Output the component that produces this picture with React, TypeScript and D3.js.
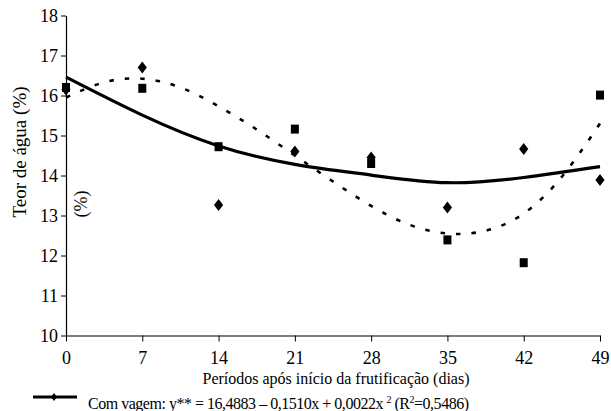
import React, { useEffect, useRef } from 'react';
import * as d3 from 'd3';

// dias após início da frutificação
const days = [0, 7, 14, 21, 28, 35, 42, 49];
// pontos observados
const comVagem = [16.15, 16.7, 13.26, 14.6, 14.45, 13.2, 14.66, 13.89];
const semVagem = [16.2, 16.18, 14.72, 15.16, 14.3, 12.39, 11.82, 16.01];
// curva ajustada (com vagem)
const fitComVagem = [16.46, 15.51, 14.74, 14.28, 14.01, 13.82, 13.95, 14.22];
// curva pontilhada (sem vagem)
const fitSemDays = [0, 3.5, 7, 10.5, 14, 17.5, 21, 24.5, 28, 31.5, 35, 38.5, 42, 45.5, 49];
const fitSemVagem = [15.95, 16.33, 16.42, 16.2, 15.73, 15.15, 14.5, 13.85, 13.24, 12.77, 12.55, 12.62, 13.05, 13.97, 15.3];
const yTicks = [10, 11, 12, 13, 14, 15, 16, 17, 18];

const FONT = 'Liberation Serif';

const diamond = (cx: number, cy: number, w: number, h: number) =>
  `M${cx},${cy - h}L${cx + w},${cy}L${cx},${cy + h}L${cx - w},${cy}Z`;

const App = () => {
  const svgRef = useRef<SVGSVGElement>(null);
  const width = 611;
  const height = 411;

  useEffect(() => {
    const svg = d3.select(svgRef.current);
    svg.selectAll('*').remove();

    const x = d3.scaleLinear().domain([0, 49]).range([66, 600]);
    const y = d3.scaleLinear().domain([10, 18]).range([335.5, 15.5]);

    // eixos
    const yAxis = svg.append('g')
      .attr('transform', `translate(${x(0)},0)`)
      .call(d3.axisLeft(y).tickValues(yTicks).tickFormat(d3.format('d')).tickSize(5).tickSizeOuter(0).tickPadding(3));

    const xAxis = svg.append('g')
      .attr('transform', `translate(0,${y(10)})`)
      .call(d3.axisBottom(x).tickValues(days).tickFormat(d3.format('d')).tickSize(6).tickSizeOuter(0).tickPadding(10));

    [yAxis, xAxis].forEach((g) => {
      g.attr('font-family', null).attr('font-size', null);
      g.selectAll('text')
        .attr('fill', '#000')
        .style('font-family', FONT)
        .style('font-size', '18px');
    });

    svg.selectAll('.domain').attr('stroke', '#000').attr('stroke-width', 1.2);
    svg.selectAll('.tick line').attr('stroke', '#000');

    // curvas
    const line = d3.line<[number, number]>()
      .x((d) => x(d[0]))
      .y((d) => y(d[1]))
      .curve(d3.curveNatural);

    svg.append('path')
      .datum(fitSemDays.map((d, i) => [d, fitSemVagem[i]] as [number, number]))
      .attr('fill', 'none')
      .attr('stroke', '#000')
      .attr('stroke-width', 2.6)
      .attr('stroke-dasharray', '4.5 11')
      .attr('d', line);

    svg.append('path')
      .datum(days.map((d, i) => [d, fitComVagem[i]] as [number, number]))
      .attr('fill', 'none')
      .attr('stroke', '#000')
      .attr('stroke-width', 3.2)
      .attr('d', line);

    // pontos
    svg.append('g').selectAll('path')
      .data(days.map((d, i) => [d, comVagem[i]]))
      .enter()
      .append('path')
      .attr('d', (d) => diamond(x(d[0]), y(d[1]), 4.6, 6))
      .attr('fill', '#000');

    svg.append('g').selectAll('rect')
      .data(days.map((d, i) => [d, semVagem[i]]))
      .enter()
      .append('rect')
      .attr('x', (d) => x(d[0]) - 4)
      .attr('y', (d) => y(d[1]) - 4.5)
      .attr('width', 8)
      .attr('height', 9)
      .attr('fill', '#000');

    // títulos
    svg.append('text')
      .attr('transform', 'translate(26,152) rotate(-90)')
      .attr('text-anchor', 'middle')
      .style('font-family', FONT)
      .style('font-size', '19px')
      .text('Teor de água (%)');

    svg.append('text')
      .attr('transform', 'translate(87,204) rotate(-90)')
      .attr('text-anchor', 'middle')
      .style('font-family', FONT)
      .style('font-size', '18px')
      .text('(%)');

    svg.append('text')
      .attr('x', 336)
      .attr('y', 384)
      .attr('text-anchor', 'middle')
      .style('font-family', FONT)
      .style('font-size', '16px')
      .text('Períodos após início da frutificação (dias)');

    // legenda
    svg.append('line')
      .attr('x1', 33).attr('x2', 77)
      .attr('y1', 397).attr('y2', 397)
      .attr('stroke', '#000')
      .attr('stroke-width', 3.2);
    svg.append('path')
      .attr('d', diamond(54, 397, 3, 4))
      .attr('fill', '#000');

    const leg = svg.append('text')
      .attr('x', 88)
      .attr('y', 409)
      .attr('textLength', 381)
      .attr('lengthAdjust', 'spacing')
      .style('font-family', FONT)
      .style('font-size', '16px')
      .style('white-space', 'pre');
    leg.append('tspan').text('Com vagem: y** = 16,4883 – 0,1510x + 0,0022x ');
    leg.append('tspan').attr('dy', -6).style('font-size', '10px').text('2');
    leg.append('tspan').attr('dy', 6).text(' (R');
    leg.append('tspan').attr('dy', -6).style('font-size', '10px').text('2');
    leg.append('tspan').attr('dy', 6).text('=0,5486)');
  }, []);

  return (
    <svg
      ref={svgRef}
      width={width}
      height={height}
      style={{ position: 'absolute', left: 0, top: 0, background: '#fff' }}
    />
  );
};

export default App;
